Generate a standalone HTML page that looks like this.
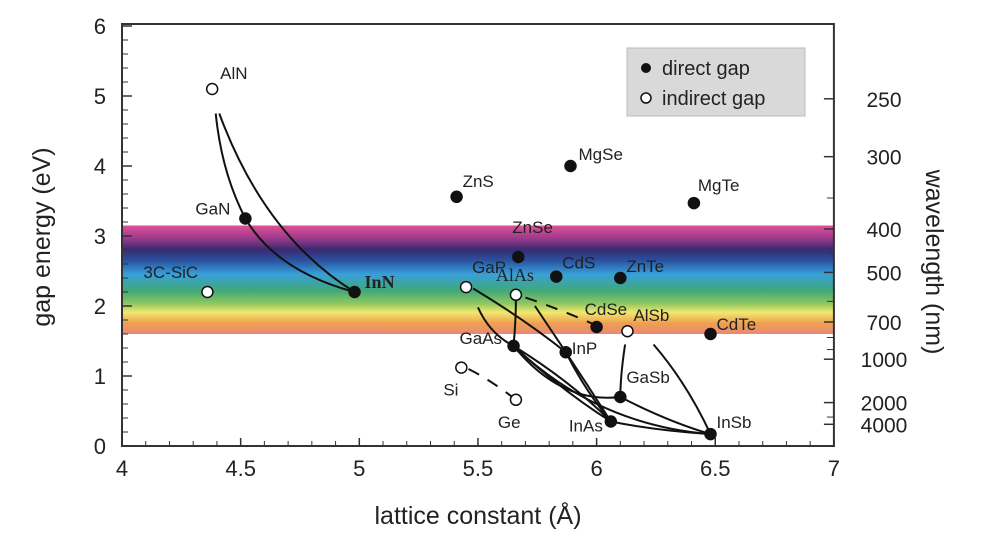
<!DOCTYPE html>
<html><head><meta charset="utf-8"><style>
html,body{margin:0;padding:0;background:#fff;width:1000px;height:539px;overflow:hidden}
svg{font-family:"Liberation Sans",sans-serif}
</style></head><body>
<svg id="chart" width="1000" height="539">
<defs>
<linearGradient id="spec" x1="0" y1="0" x2="0" y2="1">
<stop offset="0" stop-color="#e0509a"/>
<stop offset="0.12" stop-color="#9a3a8a"/>
<stop offset="0.22" stop-color="#3a2a70"/>
<stop offset="0.32" stop-color="#2a50a0"/>
<stop offset="0.45" stop-color="#38a0d8"/>
<stop offset="0.6" stop-color="#40a878"/>
<stop offset="0.72" stop-color="#90c860"/>
<stop offset="0.8" stop-color="#f0e870"/>
<stop offset="0.9" stop-color="#f0a050"/>
<stop offset="1" stop-color="#e88878"/>
</linearGradient>
</defs>
<g id="plot"></g>
</svg>
<script>
const names=["AlN","GaN","InN","3C-SiC","ZnS","MgSe","MgTe","ZnSe","CdS","ZnTe","GaP","AlAs","CdSe","AlSb","CdTe","GaAs","InP","Si","Ge","GaSb","InAs","InSb"];
const lattice=[4.38,4.52,4.98,4.36,5.41,5.89,6.41,5.67,5.83,6.10,5.45,5.66,6.00,6.13,6.48,5.65,5.87,5.43,5.66,6.10,6.06,6.48];
const gaps=[5.10,3.25,2.20,2.20,3.56,4.00,3.47,2.70,2.42,2.40,2.27,2.16,1.70,1.64,1.60,1.43,1.34,1.12,0.66,0.70,0.35,0.17];
const direct=[0,1,1,0,1,1,1,1,1,1,0,0,1,0,1,1,1,0,0,1,1,1];
const labelDx=[8,-50,10,-64,6,8,4,-6,6,6,6,-20,-12,6,6,-54,6,-18,-18,6,-42,6];
const labelDy=[-10,-4,-4,-14,-10,-6,-12,-24,-8,-6,-14,-14,-12,-10,-4,-2,2,28,28,-14,10,-6];
const xTicks=[4,4.5,5,5.5,6,6.5,7];
const yTicks=[0,1,2,3,4,5,6];
const wlLabels=[250,300,400,500,700,1000,2000,4000];
const wlMinor=[350,450,600,800,900,3000];
const X=v=>122+(v-4)*237.3;
const Y=v=>446-v*70;
const g=document.getElementById('plot');
const NS='http://www.w3.org/2000/svg';
function el(t,a,p){const e=document.createElementNS(NS,t);for(const k in a)e.setAttribute(k,a[k]);(p||g).appendChild(e);return e;}
let r=el('rect',{x:X(4),y:Y(3.15),width:X(7)-X(4),height:Y(1.6)-Y(3.15),fill:'url(#spec)'});


let f=el('rect',{x:X(4),y:Y(6)-2,width:X(7)-X(4),height:Y(0)-Y(6)+2,fill:'none',stroke:'#333','stroke-width':2});


xTicks.forEach(v=>{
 el('line',{x1:X(v),x2:X(v),y1:Y(0),y2:Y(0)-8,stroke:'#333','stroke-width':1.5});
 let t=el('text',{x:X(v),y:476,'text-anchor':'middle','font-size':22,fill:'#222'});t.textContent=String(v);
 
 
});
for(let v=4.1;v<7;v+=0.1){el('line',{x1:X(v),x2:X(v),y1:Y(0),y2:Y(0)-5,stroke:'#333','stroke-width':1});}
yTicks.forEach(v=>{
 el('line',{x1:X(4),x2:X(4)+10,y1:Y(v),y2:Y(v),stroke:'#333','stroke-width':1.5});
 let t=el('text',{x:106,y:Y(v)+8,'text-anchor':'end','font-size':22,fill:'#222'});t.textContent=String(v);
 
 
});
for(let v=0.2;v<6;v+=0.2){el('line',{x1:X(4),x2:X(4)+6,y1:Y(v),y2:Y(v),stroke:'#333','stroke-width':1});}
wlLabels.forEach(w=>{
 const e=1240/w;
 el('line',{x1:X(7),x2:X(7)-10,y1:Y(e),y2:Y(e),stroke:'#333','stroke-width':1.5});
 let t=el('text',{x:884,y:Y(e)+8,'text-anchor':'middle','font-size':21,fill:'#222'});t.textContent=String(w);
 
 
});
wlMinor.forEach(w=>{const e=1240/w;el('line',{x1:X(7),x2:X(7)-7,y1:Y(e),y2:Y(e),stroke:'#333','stroke-width':1});});
const curves=[
[4.395,4.75,4.42,3.9,4.52,3.25,0],[4.52,3.25,4.65,2.5,4.98,2.2,0],[4.41,4.75,4.6,3.0,4.98,2.2,0],
[5.65,1.43,5.85,0.8,6.06,0.35,0],[5.65,1.43,5.9,0.9,6.06,0.35,0],[5.65,1.43,5.85,0.6,6.10,0.70,0],
[5.48,2.25,5.7,1.8,5.87,1.34,0],[5.50,1.98,5.55,1.6,5.65,1.43,0],[5.66,2.1,5.66,1.8,5.65,1.43,0],
[5.87,1.34,5.95,0.8,6.06,0.35,0],[5.74,2.0,5.9,1.2,6.06,0.35,0],[6.06,0.35,6.25,0.22,6.48,0.17,0],
[6.10,0.70,6.3,0.35,6.48,0.17,0],[6.12,1.45,6.1,1.0,6.10,0.70,0],[6.24,1.45,6.38,0.9,6.48,0.17,0],
[5.65,1.43,6.0,0.3,6.48,0.17,0],[5.70,2.12,5.85,1.95,6.00,1.72,1],[5.46,1.1,5.55,0.95,5.66,0.66,1]];
curves.forEach(c=>{
 let p=el('path',{d:`M${X(c[0])},${Y(c[1])} Q${X(c[2])},${Y(c[3])} ${X(c[4])},${Y(c[5])}`,fill:'none',stroke:'#111','stroke-width':2,'stroke-dasharray':c[6]?'12 10':'none'});
 
 
});
names.forEach((n,i)=>{
 let c=el('circle',{cx:X(lattice[i]),cy:Y(gaps[i]),r:5.5,fill:direct[i]?'#111':'#fff',stroke:'#111','stroke-width':1.5});
 
 
 const serif=(n==='InN'||n==='AlAs');
 let t=el('text',{x:X(lattice[i])+labelDx[i],y:Y(gaps[i])+labelDy[i],'font-size':serif?18:17,fill:'#222','font-family':serif?'Liberation Serif,serif':'Liberation Sans,sans-serif','font-weight':n==='InN'?'bold':'normal'});
 t.textContent=n;
 
 
});
let lg=el('g',{});


el('rect',{x:627,y:48,width:178,height:68,fill:'#d9d9d9',stroke:'#bbb'},lg);
el('circle',{cx:646,cy:68,r:5,fill:'#111'},lg);
let l1=el('text',{x:662,y:75,'font-size':20,fill:'#222'},lg);l1.textContent='direct gap';


el('circle',{cx:646,cy:98,r:5,fill:'#fff',stroke:'#111','stroke-width':1.5},lg);
let l2=el('text',{x:662,y:105,'font-size':20,fill:'#222'},lg);l2.textContent='indirect gap';


let xt=el('text',{x:478,y:524,'text-anchor':'middle','font-size':25,fill:'#222'});xt.textContent='lattice constant (Å)';


let yt=el('text',{x:0,y:0,'text-anchor':'middle','font-size':25,fill:'#222',transform:'translate(50,237) rotate(-90)'});yt.textContent='gap energy (eV)';


let rt=el('text',{x:0,y:0,'text-anchor':'middle','font-size':25,fill:'#222',transform:'translate(926,262) rotate(90)'});rt.textContent='wavelength (nm)';


</script>
</body></html>
